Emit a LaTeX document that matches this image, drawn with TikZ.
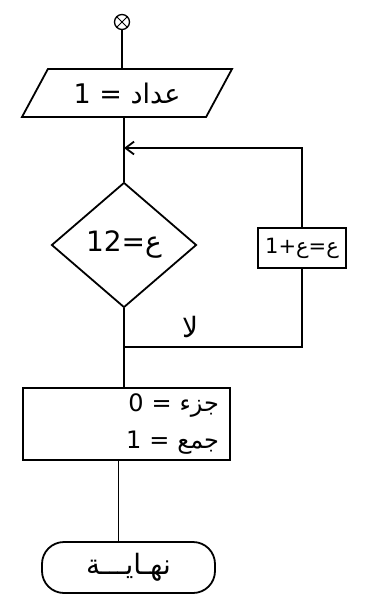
\documentclass[tikz,border=0pt]{standalone}
\usepackage{fontspec}
\newfontfamily\arabicfont[Script=Arabic]{DejaVu Sans}
\TeXXeTstate=1
\usetikzlibrary{arrows.meta,positioning,shapes.geometric,calc}
\tikzset{box/.style={draw,line width=1.8pt,align=center,inner sep=2pt,font=\arabicfont\fontsize{18}{22}\selectfont},
 io/.style={box,trapezium,trapezium left angle=44,trapezium right angle=136,trapezium stretches body,minimum width=210pt,minimum height=48pt},
 cond/.style={box,diamond,inner sep=0pt,minimum width=145pt,minimum height=125pt},
 term/.style={box,rounded corners=22pt,minimum width=173pt,minimum height=51pt},
 conn/.style={draw,circle,line width=1.3pt,minimum size=15pt,inner sep=0pt,
   path picture={\draw[line width=1pt] (path picture bounding box.north west)--(path picture bounding box.south east)
     (path picture bounding box.north east)--(path picture bounding box.south west);}},
 line/.style={line width=1.8pt},
 arrow/.style={line,-{Straight Barb[length=3mm,width=4.5mm]}}}

\begin{document}
\begin{tikzpicture}[x=1pt,y=-1pt]
\useasboundingbox (0,0) rectangle (382,608);
\node[conn] (s) at (122,22) {};
\node[io,font=\arabicfont\fontsize{27}{30}\selectfont] (i) at (127,93) {\beginR عداد = 1\endR};
\node[cond,font=\arabicfont\fontsize{28}{30}\selectfont] (d) at (124,245) {\beginR ع=\beginL 12\endL{}\endR};
\node[box,minimum width=88pt,minimum height=40pt,inner sep=1pt,font=\arabicfont\fontsize{21}{24}\selectfont] (l) at (302,248) {\beginR ع=ع+1\endR};
\node[box,align=right,text width=185pt,inner xsep=11pt,minimum height=72pt,font=\arabicfont\fontsize{24}{37}\selectfont] (o) at (126.5,424)
  {\beginR جزء = 0\endR\\ \beginR جمع = 1\endR};
\node[term,font=\arabicfont\fontsize{28}{30}\selectfont] (e) at (128.5,567.5) {\beginR نهـايـــة\endR};
\node[font=\arabicfont\fontsize{28}{30}\selectfont] (no) at (190,327) {\beginR لا\endR};

\coordinate (j1) at (124,148);
\coordinate (j2) at (124,347);
\draw[line] (s) -- (s |- i.north);
\draw[line] (i.south -| d.north) -- (d.north);
\draw[arrow] (l.north) |- (j1);
\draw[line] (l.south) |- (j2);
\draw[line] (d.south) -- (d.south |- o.north);
\draw[line] ([xshift=-8pt]o.south) -- ([xshift=-8pt]o.south |- e.north);
\end{tikzpicture}
\end{document}
